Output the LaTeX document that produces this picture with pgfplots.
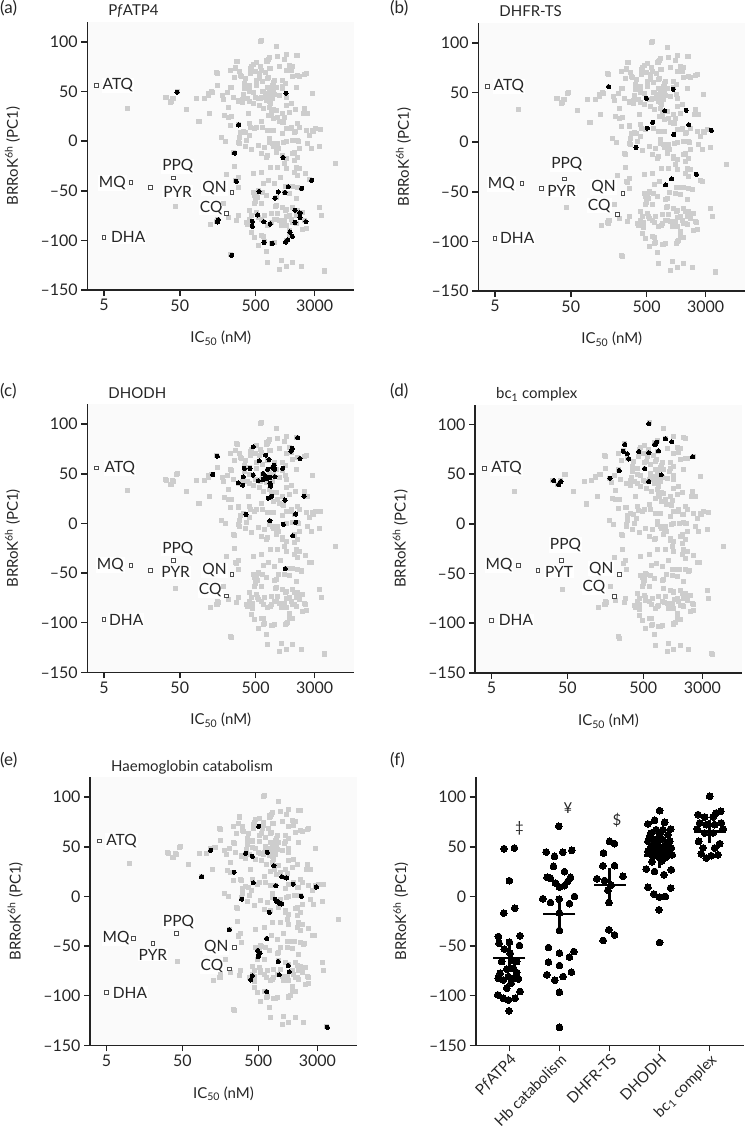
\documentclass[border=0pt]{standalone}
\usepackage{pgfplots}
\pgfplotsset{compat=1.18}
\usepackage{pgfplotstable}
\usepackage{fontspec}
\setmainfont{Lato}
\definecolor{ptgrey}{RGB}{205,205,205}
\definecolor{axcol}{RGB}{35,35,35}
\definecolor{bgcol}{RGB}{250,250,250}

% grey background compounds, x = log10(IC50 / nM), y = BRRoK6h PC1
\pgfplotstableread{
L V
2.447 80.5
2.368 70.7
2.434 73.7
2.495 66.3
2.416 63.6
2.185 68.7
2.556 57.9
2.552 52.8
2.372 54.5
2.324 48.5
2.259 45.8
2.276 42.1
2.403 44.4
2.473 40.4
2.525 42.1
2.119 49.5
2.075 47.8
2.019 43.4
1.922 43.1
1.673 49.8
1.604 43.4
1.507 43.8
1.573 39.4
1.783 32.3
2.097 27.6
2.337 33.7
2.294 25.9
2.337 24.2
2.368 15.8
2.469 16.8
2.534 10.1
2.495 8.4
2.486 3.4
2.477 -1.0
2.250 3.4
2.303 -0.4
2.407 -11.1
1.953 20.2
1.005 32.7
2.774 101.7
2.971 95.6
3.102 87.5
3.233 86.5
2.993 85.5
2.883 84.2
2.849 81.5
2.709 78.8
2.643 74.7
2.761 74.7
2.883 73.0
3.015 75.4
3.146 76.4
3.167 71.4
3.102 70.7
2.752 68.0
2.630 68.0
2.569 62.9
2.621 56.2
2.717 61.3
2.796 59.6
2.862 62.9
2.949 61.3
3.058 61.3
2.971 54.5
3.093 57.9
3.189 64.6
3.255 66.3
3.364 68.0
3.233 54.5
2.796 49.5
2.883 51.2
2.774 44.4
2.849 41.1
2.927 42.7
3.015 46.1
3.102 44.4
2.621 49.5
2.586 42.7
2.665 37.7
2.744 36.0
2.805 32.6
2.883 34.3
2.971 31.0
3.058 27.6
2.993 24.2
2.936 22.5
3.146 29.3
3.102 36.0
3.167 37.7
3.342 32.6
3.386 27.6
3.451 47.8
2.600 27.6
2.621 17.5
2.687 12.4
2.796 14.1
2.862 10.8
2.927 10.8
3.058 19.2
3.102 12.4
3.167 14.1
3.211 9.1
3.277 14.1
3.364 10.8
3.451 10.8
3.495 12.4
3.408 5.7
3.181 0.7
3.255 0.7
3.102 0.0
2.993 -2.7
2.883 -1.0
2.818 -6.1
2.731 -4.4
2.613 5.7
2.578 0.7
2.643 -8.8
2.774 -12.8
2.862 -14.5
2.971 -11.1
3.058 -14.5
3.211 -11.1
3.277 -7.8
3.386 -2.7
3.539 -5.4
3.430 -7.8
2.425 -25.6
2.316 -33.7
2.468 -37.1
2.433 -39.8
2.477 -46.5
2.272 -63.3
2.198 -78.5
2.184 -81.2
2.110 -84.5
2.337 -76.8
2.468 -75.1
2.447 -79.5
2.578 -81.9
2.372 -113.8
1.638 -65.7
3.102 -17.9
3.211 -19.6
3.255 -16.2
3.233 -26.3
3.277 -28.0
3.211 -31.3
3.255 -34.7
3.102 -28.0
3.080 -22.9
2.993 -26.3
2.892 -26.3
2.774 -31.3
2.665 -33.0
2.875 -39.8
3.408 -39.1
3.757 -22.9
3.102 -45.8
3.181 -45.8
3.255 -46.5
3.298 -48.2
3.233 -58.3
3.080 -51.6
3.146 -52.6
2.665 -51.6
2.731 -49.9
2.796 -51.6
2.709 -54.9
2.700 -58.3
2.840 -54.9
2.687 -63.3
2.774 -63.3
2.971 -56.6
2.971 -65.0
3.058 -66.7
3.102 -68.4
3.189 -66.7
3.255 -70.1
3.320 -71.8
3.233 -75.1
3.146 -75.1
3.539 -66.7
3.561 -75.1
2.621 -70.1
2.709 -71.8
2.643 -75.1
2.621 -78.5
2.600 -81.9
2.643 -83.5
2.731 -76.8
2.774 -78.5
2.818 -75.1
2.905 -73.4
2.993 -73.4
2.949 -78.5
2.905 -81.9
2.862 -85.2
3.015 -80.2
3.080 -80.2
3.167 -78.5
3.189 -81.9
3.233 -83.5
3.342 -80.2
3.364 -87.6
3.320 -88.6
3.102 -85.2
3.036 -85.2
3.146 -90.3
3.146 -95.3
2.643 -91.9
2.687 -97.0
2.774 -95.3
2.818 -101.0
2.905 -103.1
2.949 -102.1
3.102 -100.4
2.731 -105.4
2.840 -111.5
2.862 -122.3
3.036 -120.6
3.102 -126.6
3.189 -122.3
3.298 -126.6
3.604 -130.7
3.015 -129.0
}\tabG

% PfATP4
\pgfplotstableread{
L V
1.662 49.2
3.099 48.2
2.475 16.2
2.422 -12.1
3.059 -16.5
2.444 -40.4
3.437 -39.4
2.743 -50.9
3.130 -45.8
2.998 -51.2
3.086 -51.9
3.306 -47.5
2.954 -57.6
2.207 -79.2
2.194 -81.5
2.725 -74.5
2.655 -80.9
2.655 -85.9
2.809 -81.2
2.892 -83.6
3.218 -69.7
3.284 -72.4
3.284 -76.8
3.218 -81.9
3.363 -81.2
3.152 -91.6
3.183 -96.0
3.121 -99.4
3.095 -101.7
2.809 -102.1
2.919 -103.1
2.383 -115.2
}\tabA

% DHFR-TS
\pgfplotstableread{
L V
2.197 55.9
2.696 44.1
2.709 14.1
2.779 19.9
2.936 31.6
3.049 53.2
3.058 7.7
3.220 32.0
3.255 17.5
3.552 11.8
2.560 -5.4
3.355 -32.3
3.028 -37.0
2.949 -43.1
}\tabB

% DHODH
\pgfplotstableread{
L V
2.194 67.8
2.132 49.3
2.668 77.2
2.831 68.8
3.253 86.2
3.165 72.8
3.183 75.5
3.284 65.4
2.747 63.1
2.550 55.4
2.624 55.4
2.875 64.4
2.941 58.7
2.923 56.4
2.950 54.4
3.055 55.4
2.857 54.4
2.537 47.0
2.668 48.7
2.800 50.3
2.826 48.0
2.857 45.3
2.888 46.3
2.954 47.0
2.734 43.0
2.800 44.3
2.471 40.9
2.528 38.6
2.888 40.3
2.897 37.6
2.910 27.5
2.866 25.5
3.086 23.5
3.336 27.5
2.572 9.1
2.888 2.7
3.064 -1.0
3.226 9.4
3.226 1.0
3.187 -12.4
3.090 -45.6
}\tabC

% bc1 complex
\pgfplotstableread{
L V
2.769 100.7
2.991 85.6
2.860 80.5
2.873 82.2
2.847 79.9
3.074 82.6
2.455 79.9
2.433 73.2
2.485 70.5
2.507 65.4
2.638 72.8
2.773 71.5
2.899 73.5
3.348 67.5
2.381 53.7
2.716 55.7
2.259 46.0
2.769 42.6
2.934 49.3
1.518 43.6
1.584 39.6
1.614 42.6
}\tabD

% Haemoglobin catabolism
\pgfplotstableread{
L V
2.703 70.6
2.073 46.4
1.951 19.8
2.533 43.4
2.620 40.4
2.817 44.4
2.380 24.5
2.633 13.8
2.905 30.9
3.010 19.8
3.071 18.5
2.931 10.8
3.159 12.4
3.465 9.4
2.480 -2.7
2.922 -2.7
2.940 -5.0
2.975 -6.7
3.005 -7.7
3.268 0.0
2.843 -16.1
2.314 -33.6
2.808 -42.4
2.690 -54.5
2.721 -57.2
2.699 -60.5
2.962 -65.6
3.093 -69.6
2.975 -79.0
3.106 -76.0
2.620 -80.0
2.598 -84.1
2.808 -95.8
3.609 -131.8
}\tabE

% reference drugs: ATQ, MQ, PYR, PPQ, QN, CQ, DHA
\pgfplotstableread{
L V
0.600 56.0
1.056 -42.0
1.310 -47.0
1.620 -37.0
2.386 -51.3
2.318 -73.0
0.700 -97.0
}\tabR

% panel (f): category position (with jitter) and PC1
\pgfplotstableread{
x V
-0.107 48.1
0.100 48.8
0.000 15.8
-0.113 -16.8
0.107 -11.8
-0.220 -40.4
0.213 -39.7
0.000 -46.1
-0.207 -47.1
-0.100 -53.1
0.200 -49.4
0.013 -57.2
-0.153 -65.6
0.047 -63.9
0.147 -65.6
-0.053 -73.3
0.080 -72.3
0.147 -76.7
-0.187 -77.4
-0.220 -82.4
-0.120 -84.1
-0.020 -80.7
0.080 -82.4
0.180 -83.1
0.033 -87.4
-0.053 -92.5
0.213 -95.8
-0.233 -99.2
-0.120 -102.6
-0.020 -104.3
0.113 -102.6
-0.007 -115.3
0.987 70.6
0.733 44.7
0.900 40.4
1.067 44.4
1.247 46.4
0.880 30.3
1.100 24.9
0.753 19.2
1.220 19.2
0.820 18.2
1.167 15.1
0.920 13.5
1.000 9.4
1.100 10.8
0.667 -2.4
0.820 -6.1
0.993 -2.7
1.300 0.0
1.200 -7.4
1.000 -16.8
1.000 -34.3
0.780 -51.5
1.000 -57.2
1.287 -55.5
1.200 -61.2
0.780 -66.2
1.000 -69.6
0.747 -79.0
0.907 -84.4
1.073 -80.7
1.240 -76.3
1.000 -96.5
1.000 -131.8
2.000 55.5
2.100 53.1
1.880 43.7
1.867 30.9
2.100 30.9
1.747 17.8
1.900 16.1
2.267 20.2
2.033 11.4
1.967 6.1
1.987 -6.1
1.987 -33.6
2.100 -38.7
1.873 -44.4
3.000 86.4
2.767 73.0
2.900 76.7
3.100 74.7
3.220 67.9
2.933 67.2
3.067 67.2
2.833 63.9
3.000 62.2
3.167 62.2
2.800 60.0
2.980 58.0
2.767 55.5
2.900 57.2
3.067 57.2
3.200 55.5
3.150 53.0
2.833 50.4
2.967 52.1
3.100 50.4
3.233 48.8
3.120 48.0
2.767 45.4
2.900 47.1
3.033 45.4
3.167 44.4
2.950 44.0
3.250 42.0
2.867 40.4
3.000 38.7
3.133 39.7
3.050 36.0
2.850 35.0
2.733 27.6
2.900 25.2
3.087 21.9
3.233 26.9
2.767 9.1
3.220 8.4
2.887 2.4
3.000 -0.7
3.113 0.0
2.987 -13.5
3.000 -46.4
4.000 100.9
3.767 82.4
3.900 80.0
4.067 80.0
4.220 85.8
4.133 84.1
3.800 74.0
3.933 72.3
4.100 72.3
4.233 74.0
3.900 63.9
4.067 63.9
3.780 55.5
4.200 53.1
4.100 48.8
3.867 48.8
3.833 43.0
3.933 38.7
4.033 41.0
4.167 42.0
3.750 68.0
4.270 68.0
}\tabF

% means and SEM for panel (f)
\pgfplotstableread{
x m s
0 -62.2 6.0
1 -17.8 8.5
2 11.4 8.8
3 41.2 4.2
4 65.2 3.6
}\tabM

\pgfplotsset{
  base/.style={
    scale only axis, width=267pt, height=268pt,
    ymin=-150, ymax=120,
    axis x line=bottom, axis y line=left,
    axis line style={-, line width=1.6pt, axcol},
    axis background/.style={fill=bgcol},
    ytick={-150,-100,-50,0,50,100},
    yticklabels={--150,--100,--50,0,50,100},
    tick align=outside, major tick length=6pt,
    every tick/.style={line width=1.6pt, axcol},
    tick label style={font=\fontsize{16}{18}\selectfont, text=black!85},
    ylabel={BRRoK\textsuperscript{6h} (PC1)},
    y label style={at={(axis description cs:-0.28,0.5)}, anchor=center,
      font=\fontsize{15}{18}\selectfont, text=black!85},
    title style={at={(axis description cs:0.066,1)}, anchor=base west,
      font=\fontsize{15}{18}\selectfont, text=black!85},
    clip=false,
  },
  scat/.style={base,
    xmin=0.48, xmax=4.0,
    xtick={0.69897,1.69897,2.69897,3.47712},
    xticklabels={5,50,500,3000},
    xlabel={IC\textsubscript{50} (nM)},
    x label style={at={(axis description cs:0.5,-0.18)}, anchor=center,
      font=\fontsize{15}{18}\selectfont, text=black!85},
  },
  greysq/.style={only marks, mark=square*, mark size=2pt, color=ptgrey,
    mark options={draw=ptgrey, fill=ptgrey, line width=0pt}},
  blackdot/.style={only marks, mark=*, mark size=2.1pt, color=black,
    mark options={draw=black, fill=black, line width=0pt}},
  drugbox/.style={only marks, mark=square*, mark size=1.9pt, color=black!70,
    mark options={draw=black!70, fill=white, line width=0.8pt}},
  bigdot/.style={only marks, mark=*, mark size=3.4pt, color=black,
    mark options={draw=black, fill=black, line width=0pt}},
}
\tikzset{drug/.style={font=\fontsize{15.5}{18}\selectfont, inner sep=1pt,
    text=black!85, fill=white}}

\begin{document}
\begin{tikzpicture}
\useasboundingbox (0pt,0pt) rectangle (755pt,-1139pt);
\tikzset{plab/.style={anchor=north west, inner sep=0pt,
    font=\fontsize{17}{20}\selectfont, text=black!85}}
\node[plab] at (0pt,0pt) {(a)};
\node[plab] at (390pt,0pt) {(b)};
\node[plab] at (0pt,-383pt) {(c)};
\node[plab] at (390pt,-383pt) {(d)};
\node[plab] at (0pt,-752pt) {(e)};
\node[plab] at (390pt,-752pt) {(f)};

% (a) PfATP4
\begin{axis}[scat, at={(87.3pt,-290pt)}, anchor=south west,
  title={P\textit{f}ATP4}]
\addplot[greysq] table[x=L,y=V] {\tabG};
\addplot[greysq] table[x=L,y=V] {\tabB};
\addplot[greysq] table[x=L,y=V] {\tabC};
\addplot[greysq] table[x=L,y=V] {\tabD};
\addplot[greysq] table[x=L,y=V] {\tabE};
\addplot[blackdot] table[x=L,y=V] {\tabA};
\addplot[drugbox] table[x=L,y=V] {\tabR};
\node[drug, anchor=west, xshift=5pt] at (axis cs:0.600,56) {ATQ};
\node[drug, anchor=east, xshift=-4pt] at (axis cs:1.056,-42) {MQ};
\node[drug, anchor=base, xshift=4pt, yshift=7pt] at (axis cs:1.620,-37) {PPQ};
\node[drug, anchor=west, xshift=12pt, yshift=-4pt] at (axis cs:1.310,-47) {PYR};
\node[drug, anchor=east, xshift=-4pt, yshift=4pt] at (axis cs:2.386,-51.3) {QN};
\node[drug, anchor=east, xshift=-3pt, yshift=6pt] at (axis cs:2.318,-73) {CQ};
\node[drug, anchor=west, xshift=6pt] at (axis cs:0.700,-97) {DHA};
\end{axis}

% (b) DHFR-TS
\begin{axis}[scat, at={(478.3pt,-291pt)}, anchor=south west,
  title={DHFR-TS}]
\addplot[greysq] table[x=L,y=V] {\tabG};
\addplot[greysq] table[x=L,y=V] {\tabA};
\addplot[greysq] table[x=L,y=V] {\tabC};
\addplot[greysq] table[x=L,y=V] {\tabD};
\addplot[greysq] table[x=L,y=V] {\tabE};
\addplot[blackdot] table[x=L,y=V] {\tabB};
\addplot[drugbox] table[x=L,y=V] {\tabR};
\node[drug, anchor=west, xshift=5pt] at (axis cs:0.600,56) {ATQ};
\node[drug, anchor=east, xshift=-6pt] at (axis cs:1.056,-42) {MQ};
\node[drug, anchor=base, xshift=2pt, yshift=10pt] at (axis cs:1.620,-37) {PPQ};
\node[drug, anchor=west, xshift=5pt, yshift=-2pt] at (axis cs:1.310,-47) {PYR};
\node[drug, anchor=east, xshift=-6pt, yshift=6pt] at (axis cs:2.386,-51.3) {QN};
\node[drug, anchor=east, xshift=-6pt, yshift=9pt] at (axis cs:2.318,-73) {CQ};
\node[drug, anchor=west, xshift=4pt] at (axis cs:0.700,-97) {DHA};
\end{axis}

% (c) DHODH
\begin{axis}[scat, at={(87.3pt,-672.3pt)}, anchor=south west,
  title={DHODH}]
\addplot[greysq] table[x=L,y=V] {\tabG};
\addplot[greysq] table[x=L,y=V] {\tabA};
\addplot[greysq] table[x=L,y=V] {\tabB};
\addplot[greysq] table[x=L,y=V] {\tabD};
\addplot[greysq] table[x=L,y=V] {\tabE};
\addplot[blackdot] table[x=L,y=V] {\tabC};
\addplot[drugbox] table[x=L,y=V] {\tabR};
\node[drug, anchor=west, xshift=7pt] at (axis cs:0.600,56) {ATQ};
\node[drug, anchor=east, xshift=-6pt] at (axis cs:1.056,-42) {MQ};
\node[drug, anchor=base, xshift=4pt, yshift=7pt] at (axis cs:1.620,-37) {PPQ};
\node[drug, anchor=west, xshift=10pt, yshift=-2pt] at (axis cs:1.310,-47) {PYR};
\node[drug, anchor=east, xshift=-4pt, yshift=4pt] at (axis cs:2.386,-51.3) {QN};
\node[drug, anchor=east, xshift=-4pt, yshift=6pt] at (axis cs:2.318,-73) {CQ};
\node[drug, anchor=west, xshift=4pt] at (axis cs:0.700,-97) {DHA};
\end{axis}

% (d) bc1 complex
\begin{axis}[scat, at={(475pt,-672.7pt)}, anchor=south west,
  title={bc\textsubscript{1} complex}]
\addplot[greysq] table[x=L,y=V] {\tabG};
\addplot[greysq] table[x=L,y=V] {\tabA};
\addplot[greysq] table[x=L,y=V] {\tabB};
\addplot[greysq] table[x=L,y=V] {\tabC};
\addplot[greysq] table[x=L,y=V] {\tabE};
\addplot[blackdot] table[x=L,y=V] {\tabD};
\addplot[drugbox] table[x=L,y=V] {\tabR};
\node[drug, anchor=west, xshift=6pt] at (axis cs:0.600,56) {ATQ};
\node[drug, anchor=east, xshift=-5pt] at (axis cs:1.056,-42) {MQ};
\node[drug, anchor=base, xshift=4pt, yshift=11pt] at (axis cs:1.620,-37) {PPQ};
\node[drug, anchor=west, xshift=6pt, yshift=-1pt] at (axis cs:1.310,-47) {PYT};
\node[drug, anchor=east, xshift=-5pt, yshift=6pt] at (axis cs:2.386,-51.3) {QN};
\node[drug, anchor=east, xshift=-8pt, yshift=9pt] at (axis cs:2.318,-73) {CQ};
\node[drug, anchor=west, xshift=6pt] at (axis cs:0.700,-97) {DHA};
\end{axis}

% (e) Haemoglobin catabolism
\begin{axis}[scat, at={(90pt,-1045.3pt)}, anchor=south west,
  title={Haemoglobin catabolism}]
\addplot[greysq] table[x=L,y=V] {\tabG};
\addplot[greysq] table[x=L,y=V] {\tabA};
\addplot[greysq] table[x=L,y=V] {\tabB};
\addplot[greysq] table[x=L,y=V] {\tabC};
\addplot[greysq] table[x=L,y=V] {\tabD};
\addplot[blackdot] table[x=L,y=V] {\tabE};
\addplot[drugbox] table[x=L,y=V] {\tabR};
\node[drug, anchor=west, xshift=6pt] at (axis cs:0.600,56) {ATQ};
\node[drug, anchor=east, xshift=-3pt] at (axis cs:1.056,-42) {MQ};
\node[drug, anchor=base, xshift=2pt, yshift=7pt] at (axis cs:1.620,-37) {PPQ};
\node[drug, anchor=north, yshift=-5pt] at (axis cs:1.310,-47) {PYR};
\node[drug, anchor=east, xshift=-5pt] at (axis cs:2.386,-51.3) {QN};
\node[drug, anchor=east, xshift=-5pt, yshift=3pt] at (axis cs:2.318,-73) {CQ};
\node[drug, anchor=west, xshift=5pt] at (axis cs:0.700,-97) {DHA};
\end{axis}

% (f) dot plot by class
\begin{axis}[base, at={(475.7pt,-1045.3pt)}, anchor=south west,
  width=268pt, axis background/.style={},
  xmin=-0.673, xmax=4.68,
  xtick={0,1,2,3,4},
  xticklabels={P\textit{f}ATP4, Hb catabolism, DHFR-TS, DHODH, bc\textsubscript{1} complex},
  xticklabel style={rotate=45, anchor=north east, inner sep=1pt,
    font=\fontsize{15}{18}\selectfont}]
\addplot[bigdot] table[x=x,y=V] {\tabF};
\addplot[only marks, mark=-, mark size=16pt, color=black,
  mark options={line width=2.6pt, draw=black},
  error bars/.cd, y dir=both, y explicit,
  error mark=-, error mark options={mark size=8pt, line width=2.6pt, draw=black},
  error bar style={line width=2.6pt, black}]
  table[x=x, y=m, y error=s] {\tabM};
\node[font=\fontsize{15}{18}\selectfont, text=black!85] at (axis cs:0.20,69) {\ddag};
\node[font=\fontsize{15}{18}\selectfont, text=black!85] at (axis cs:1.17,89) {¥};
\node[font=\fontsize{15}{18}\selectfont, text=black!85] at (axis cs:2.15,77) {\$};
\end{axis}
\end{tikzpicture}
\end{document}
